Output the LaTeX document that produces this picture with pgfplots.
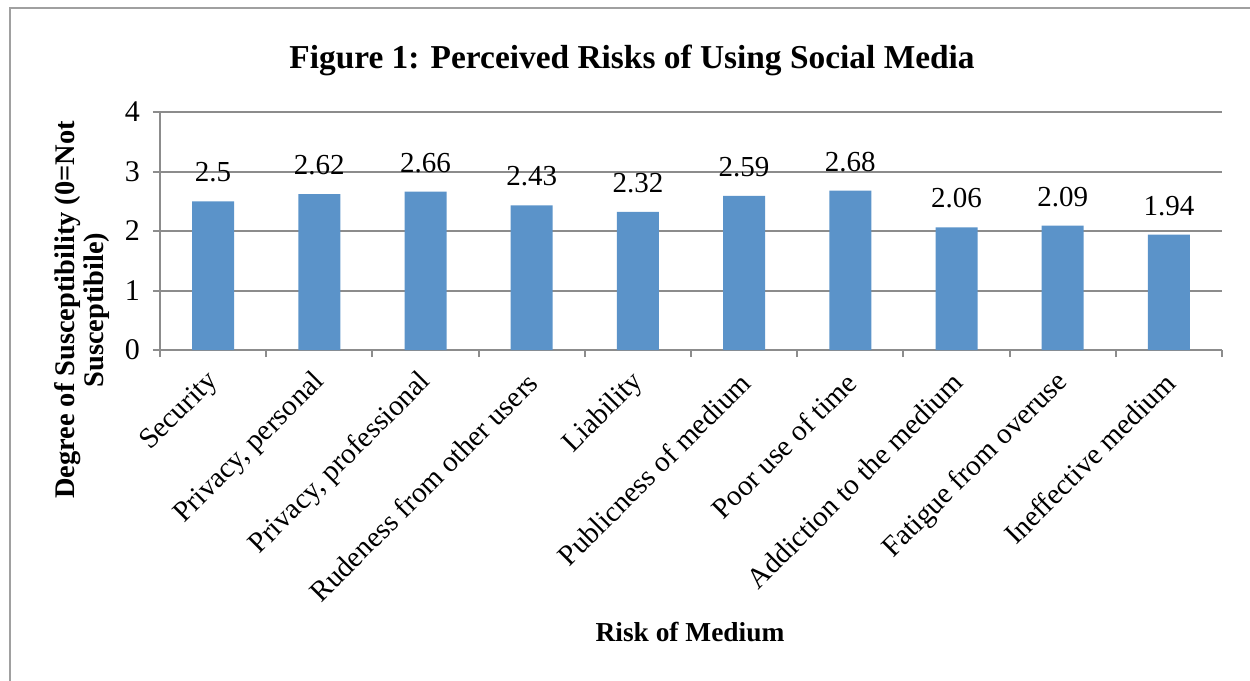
\documentclass[border=0pt]{standalone}
\usepackage{pgfplots}
\pgfplotsset{compat=1.18}
\usepackage{fontspec}
\setmainfont{Liberation Serif}
\definecolor{barblue}{HTML}{5B93C9}
\definecolor{gridgray}{HTML}{8C8C8C}
\definecolor{framegray}{HTML}{A0A0A0}

\begin{document}
\begin{tikzpicture}
% page frame: 1250x681 px at 0.5pt per px
\useasboundingbox (0,0) rectangle (625pt,340.5pt);
\draw[framegray, line width=1.4pt] (625pt,336.5pt) -- (5pt,336.5pt) -- (5pt,0pt);

\begin{axis}[
    at={(80pt,165.5pt)}, anchor=south west,
    scale only axis,
    width=531pt, height=119pt,
    ymin=0, ymax=4,
    ytick={0,1,2,3,4},
    xmin=-0.5, xmax=9.5,
    xtick={0,...,9},
    xticklabels={Security, {Privacy, personal}, {Privacy, professional},
        Rudeness from other users, Liability, Publicness of medium,
        Poor use of time, Addiction to the medium, Fatigue from overuse,
        Ineffective medium},
    minor xtick={-0.5,0.5,...,9.5},
    axis lines=left,
    axis line style={-, gridgray, line width=1pt},
    ymajorgrids,
    major grid style={gridgray, line width=1pt},
    tick align=outside,
    major tick length=3.5pt,
    minor tick length=3.5pt,
    xtick style={draw=none},
    minor x tick style={draw=gridgray, line width=1pt},
    ytick style={gridgray, line width=1pt},
    x tick label style={xshift=3pt, yshift=-8pt, rotate=45, anchor=east, font=\fontsize{14.5}{16}\selectfont},
    y tick label style={font=\fontsize{15}{17}\selectfont, xshift=-3pt},
    /pgf/number format/assume math mode=true,
    bar width=21pt,
    nodes near coords,
    every node near coord/.append style={font=\fontsize{14.5}{17}\selectfont, anchor=south, yshift=6pt},
    clip=false,
    ]
\addplot[ybar, fill=barblue, draw=none] coordinates {
    (0,2.5) (1,2.62) (2,2.66) (3,2.43) (4,2.32)
    (5,2.59) (6,2.68) (7,2.06) (8,2.09) (9,1.94)};
\end{axis}

\node[font=\bfseries\fontsize{16.7}{19}\selectfont] at (316pt,310.5pt)
    {Figure 1: Perceived Risks of Using Social Media};
\node[font=\bfseries\fontsize{14.2}{14.5}\selectfont, rotate=90, align=center] at (41pt,185.5pt)
    {Degree of Susceptibility (0=Not\\ Susceptibile)};
\node[font=\bfseries\fontsize{13.7}{15}\selectfont] at (345pt,24.5pt) {Risk of Medium};
\end{tikzpicture}
\end{document}
